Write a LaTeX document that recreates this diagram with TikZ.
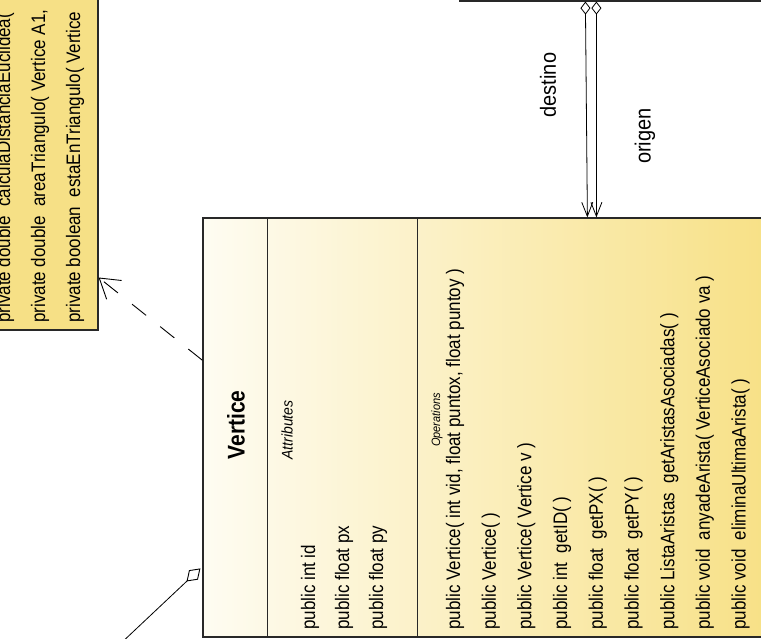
\documentclass[tikz,border=0pt]{standalone}
\usepackage{fontspec}
\setmainfont{Liberation Sans}
\usetikzlibrary{arrows.meta,calc}
\definecolor{noteyellow}{RGB}{246,224,134}
\definecolor{creamlight}{RGB}{254,252,242}
\definecolor{yellowdeep}{RGB}{247,223,128}
\definecolor{edgegray}{RGB}{40,40,40}

\begin{document}
\begin{tikzpicture}[x=1pt,y=-1pt,
  classbox/.style={draw=edgegray, line width=1.2pt, inner sep=0pt},
  divider/.style={draw=edgegray, line width=1.2pt},
  member/.style={rotate=90, yscale=1.15, anchor=west, inner sep=0pt, font=\fontsize{17}{20}\selectfont},
  title/.style={rotate=90, yscale=1.15, inner sep=0pt, font=\fontsize{21}{24}\selectfont\bfseries},
  section/.style={rotate=90, yscale=1.1, inner sep=0pt, font=\itshape},
  role/.style={rotate=90, yscale=1.1, fill=white, inner sep=1pt, font=\fontsize{20}{22}\selectfont},
  assoc/.style={line width=0.8pt, draw=black,
    {Diamond[fill=white, length=13pt, width=10pt, line width=0.8pt]}-{Straight Barb[length=14pt, width=11pt, line width=0.8pt]}},
  dep/.style={line width=0.9pt, draw=black, dash pattern=on 18pt off 18pt,
    -{Straight Barb[length=19pt, width=24pt, line width=0.9pt]}},
  aggr/.style={line width=0.8pt, draw=black,
    {Diamond[fill=white, length=19pt, width=13pt, line width=0.9pt]}-}
]
\useasboundingbox (0,0) rectangle (761,639);
\clip (0,0) rectangle (761,639);
\fill[white] (0,0) rectangle (761,639);

% class boxes
\node[classbox, fill=noteyellow, minimum width=128pt, minimum height=360pt] (helper) at (34,150) {};
\node[classbox, fill=noteyellow, minimum width=360pt, minimum height=41pt] (arista) at (640,-19.5) {};
\draw[divider] ($(arista.south west)+(62,0)$) -- ($(arista.north west)+(62,0)$);
\draw[divider] ($(arista.south west)+(213,0)$) -- ($(arista.north west)+(213,0)$);

\node[classbox, left color=creamlight, right color=yellowdeep,
      minimum width=597pt, minimum height=419pt] (vertice) at (501.5,427.5) {};
\draw[divider] ($(vertice.north west)+(65,0)$) -- ($(vertice.south west)+(65,0)$);
\draw[divider] ($(vertice.north west)+(215,0)$) -- ($(vertice.south west)+(215,0)$);

% helper methods
\node[member] (h1) at (5,323) {private double\ \ calculaDistanciaEuclidea(};
\node[member] (h2) at (40,323) {private double\ \ areaTriangulo( Vertice A1,};
\node[member] (h3) at (75,323) {private boolean\ \ estaEnTriangulo( Vertice};

% Vertice
\node[title] (vname) at (236,425) {Vertice};
\node[section, font=\fontsize{14}{16}\selectfont\itshape] (attrs) at (287,430) {Attributes};
\node[member] (a1) at (310,630) {public int id};
\node[member] (a2) at (344,630) {public float px};
\node[member] (a3) at (378,630) {public float py};

\node[section, font=\fontsize{11}{13}\selectfont\itshape] (ops) at (437,420) {Operations};
\node[member] (o1) at (455,630) {public Vertice( int vid, float puntox, float puntoy )};
\node[member] (o2) at (490.7,630) {public Vertice( )};
\node[member] (o3) at (526.4,630) {public Vertice( Vertice v )};
\node[member] (o4) at (562.1,630) {public int\ \ getID( )};
\node[member] (o5) at (597.8,630) {public float\ \ getPX( )};
\node[member] (o6) at (633.5,630) {public float\ \ getPY( )};
\node[member] (o7) at (669.2,630) {public ListaAristas\ \ getAristasAsociadas( )};
\node[member] (o8) at (704.9,630) {public void\ \ anyadeArista( VerticeAsociado va )};
\node[member] (o9) at (740.6,630) {public void\ \ eliminaUltimaArista( )};

% connectors
\draw[dep] ($(vertice.north west)!0.34!(vertice.south west)$) -- ($(helper.north east)!0.853!(helper.south east)$);
\draw[assoc] ($(arista.south west)+(126,0)$) -- ($(vertice.north west)+(385,0)$);
\draw[assoc] ($(arista.south west)+(137,0)$) -- ($(vertice.north west)+(394,0)$);
\coordinate (aggrEnd) at (118,646);
\draw[aggr] ($(vertice.north west)+(-2,351)$) -- (aggrEnd);

\node[role] (dest) at (548,85) {destino};
\node[role] (orig) at (645,136) {origen};
\end{tikzpicture}
\end{document}
